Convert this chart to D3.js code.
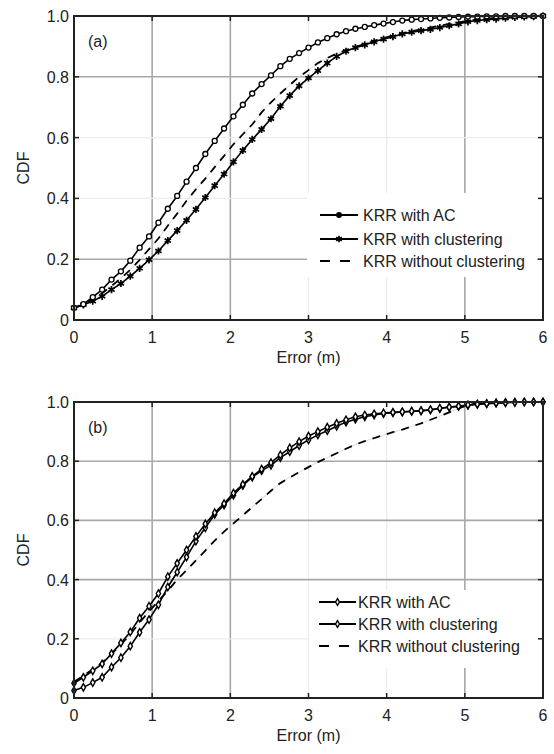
<!DOCTYPE html>
<html>
<head>
<meta charset="utf-8">
<script src="https://cdn.jsdelivr.net/npm/d3@7"></script>
<style>
html,body{margin:0;padding:0;background:#fff;}
svg{display:block;font-family:"Liberation Sans",Arial,sans-serif;}
</style>
</head>
<body>
<svg id="chart" width="554" height="754"></svg>
<script>
// ---------- data ----------
const errorM = [0,0.12,0.24,0.36,0.48,0.6,0.72,0.84,0.96,1.08,1.2,1.32,1.44,1.56,1.68,1.8,1.92,2.04,2.16,2.28,2.4,2.52,2.64,2.76,2.88,3.0,3.12,3.24,3.36,3.48,3.6,3.72,3.84,3.96,4.08,4.2,4.32,4.44,4.56,4.68,4.8,4.92,5.04,5.16,5.28,5.4,5.52,5.64,5.76,5.88,6.0];

const cdfA_AC = [0.040,0.052,0.075,0.100,0.133,0.160,0.195,0.238,0.275,0.320,
  0.366,0.408,0.455,0.500,0.546,0.589,0.630,0.670,0.708,0.745,
  0.776,0.805,0.835,0.859,0.878,0.896,0.913,0.927,0.940,0.950,
  0.958,0.964,0.970,0.975,0.980,0.985,0.988,0.990,0.992,0.994,
  0.995,0.997,0.998,0.998,0.999,0.999,1.000,1.000,1.000,1.000,1.000];
const cdfA_Clust = [0.040,0.050,0.062,0.078,0.100,0.120,0.144,0.170,0.198,0.227,
  0.261,0.294,0.328,0.364,0.403,0.442,0.480,0.520,0.558,0.594,
  0.627,0.662,0.703,0.738,0.770,0.796,0.820,0.845,0.867,0.884,
  0.896,0.905,0.915,0.924,0.932,0.941,0.947,0.952,0.956,0.962,
  0.968,0.974,0.981,0.985,0.988,0.990,0.993,0.995,0.997,0.998,1.000];
const cdfA_NoClust = [0.040,0.050,0.068,0.088,0.112,0.137,0.165,0.198,0.233,0.268,
  0.310,0.350,0.392,0.430,0.465,0.503,0.540,0.578,0.611,0.643,
  0.683,0.716,0.745,0.773,0.800,0.822,0.845,0.862,0.876,0.888,
  0.898,0.908,0.918,0.927,0.935,0.943,0.950,0.956,0.962,0.968,
  0.974,0.979,0.984,0.988,0.991,0.994,0.996,0.998,0.999,1.000,1.000];

const cdfB_AC = [0.050,0.070,0.092,0.115,0.150,0.186,0.223,0.270,0.310,0.353,
  0.410,0.455,0.500,0.546,0.588,0.626,0.657,0.692,0.722,0.749,
  0.773,0.795,0.821,0.845,0.866,0.885,0.900,0.915,0.928,0.940,
  0.950,0.956,0.960,0.963,0.965,0.967,0.969,0.971,0.974,0.979,
  0.983,0.986,0.990,0.993,0.995,0.997,0.998,0.999,1.000,1.000,1.000];
const cdfB_Clust = [0.025,0.036,0.052,0.070,0.104,0.136,0.175,0.222,0.265,0.315,
  0.375,0.425,0.476,0.530,0.575,0.620,0.652,0.685,0.718,0.746,
  0.768,0.786,0.812,0.832,0.853,0.872,0.889,0.903,0.918,0.932,
  0.942,0.950,0.956,0.961,0.964,0.966,0.968,0.970,0.973,0.978,
  0.982,0.985,0.989,0.992,0.994,0.996,0.998,0.999,1.000,1.000,1.000];
const cdfB_NoClust = [0.055,0.075,0.097,0.120,0.148,0.180,0.215,0.255,0.292,0.328,
  0.362,0.400,0.432,0.465,0.498,0.532,0.562,0.590,0.617,0.645,
  0.672,0.700,0.726,0.745,0.763,0.780,0.797,0.812,0.827,0.842,
  0.856,0.868,0.878,0.888,0.898,0.907,0.917,0.928,0.940,0.952,
  0.965,0.978,0.990,0.996,0.998,1.000,1.000,1.000,1.000,1.000,1.000];

const seriesNames = ["KRR with AC","KRR with clustering","KRR without clustering"];
const panelLabels = ["(a)","(b)"];
const xTicks = [0,1,2,3,4,5,6];
const yTicks = [0,0.2,0.4,0.6,0.8,1.0];
const yTickLabels = ["0","0.2","0.4","0.6","0.8","1.0"];
const xAxisTitle = "Error (m)";
const yAxisTitle = "CDF";

// ---------- drawing ----------
const svg = d3.select("#chart");
const FONT = 16;

const panels = [
  {label: panelLabels[0], series:[cdfA_AC, cdfA_Clust, cdfA_NoClust],
   top:16, bottom:320, markers:["circle","asterisk"],
   xGridDark:[1,2,5], yGridDark:[0.2,0.8],
   legend:{x0:307, y0:193, x1:537, y1:277, lineX:320, lineW:38, textX:363, rows:[215,239,261]}},
  {label: panelLabels[1], series:[cdfB_AC, cdfB_Clust, cdfB_NoClust],
   top:402, bottom:698, markers:["diamond","diamond"],
   xGridDark:[1,2,5], yGridDark:[0.4,0.6,0.8],
   legend:{x0:310, y0:590, x1:537, y1:668, lineX:319, lineW:37, textX:358, rows:[602,624,646]}}
];

const left = 74, right = 543;
const x = d3.scaleLinear().domain([0,6]).range([left,right]);

function drawMarker(g, type, cx, cy, small){
  if(type==="circle"){
    g.append("circle").attr("cx",cx).attr("cy",cy).attr("r", small?2.3:2.5)
      .attr("fill", small?"#000":"#fff").attr("stroke","#000").attr("stroke-width",1.3);
  } else if(type==="asterisk"){
    g.append("path").attr("transform",`translate(${cx},${cy})`)
      .attr("d", d3.symbol().type(d3.symbolAsterisk).size(small?30:36)())
      .attr("fill","none").attr("stroke","#000").attr("stroke-width",1.7);
  } else if(type==="diamond"){
    g.append("path").attr("transform",`translate(${cx},${cy})`)
      .attr("d", d3.symbol().type(d3.symbolDiamond).size(small?13:16)())
      .attr("fill","#fff").attr("stroke","#000").attr("stroke-width",1.4);
  }
}

panels.forEach(p => {
  const y = d3.scaleLinear().domain([0,1]).range([p.bottom,p.top]);
  const g = svg.append("g");

  // grid
  xTicks.filter(t => t>0 && t<6).forEach(t => {
    const dark = p.xGridDark.includes(t);
    g.append("line").attr("x1",x(t)).attr("x2",x(t)).attr("y1",p.top).attr("y2",p.bottom)
      .attr("stroke", dark?"#a8a8a8":"#ececec").attr("stroke-width", dark?1.6:1.2);
  });
  yTicks.filter(t => t>0 && t<1).forEach(t => {
    const dark = p.yGridDark.includes(t);
    g.append("line").attr("x1",left).attr("x2",right).attr("y1",y(t)).attr("y2",y(t))
      .attr("stroke", dark?"#a8a8a8":"#ececec").attr("stroke-width", dark?1.6:1.2);
  });

  // legend background (covers grid)
  const L = p.legend;
  g.append("rect").attr("x",L.x0).attr("y",L.y0).attr("width",L.x1-L.x0).attr("height",L.y1-L.y0)
    .attr("fill","#fff");

  const line = d3.line().x((d,i)=>x(errorM[i])).y(d=>y(d));

  // dashed series (without clustering)
  g.append("path").datum(p.series[2]).attr("d",line).attr("fill","none")
    .attr("stroke","#d0d0d0").attr("stroke-width",0.8);
  g.append("path").datum(p.series[2]).attr("d",line).attr("fill","none")
    .attr("stroke","#000").attr("stroke-width",1.8).attr("stroke-dasharray","8,7");

  // solid series with markers
  [1,0].forEach(si => {
    g.append("path").datum(p.series[si]).attr("d",line).attr("fill","none")
      .attr("stroke","#000").attr("stroke-width",1.6);
    const mg = g.append("g");
    p.series[si].forEach((v,i) => drawMarker(mg, p.markers[si], x(errorM[i]), y(v), false));
  });

  // axis frame and ticks
  const ax = g.append("g");
  xTicks.forEach(t => {
    ax.append("line").attr("x1",x(t)).attr("x2",x(t)).attr("y1",p.bottom).attr("y2",p.bottom-5)
      .attr("stroke","#222").attr("stroke-width",1.5);
    ax.append("line").attr("x1",x(t)).attr("x2",x(t)).attr("y1",p.top).attr("y2",p.top+5)
      .attr("stroke","#222").attr("stroke-width",1.5);
    ax.append("text").attr("x",x(t)).attr("y",p.bottom+23).attr("text-anchor","middle")
      .attr("font-size",FONT).attr("fill","#222").text(t);
  });
  yTicks.forEach((t,i) => {
    ax.append("line").attr("x1",left).attr("x2",left+5).attr("y1",y(t)).attr("y2",y(t))
      .attr("stroke","#222").attr("stroke-width",1.5);
    ax.append("line").attr("x1",right).attr("x2",right-5).attr("y1",y(t)).attr("y2",y(t))
      .attr("stroke","#222").attr("stroke-width",1.5);
    ax.append("text").attr("x",left-5).attr("y",y(t)+6).attr("text-anchor","end")
      .attr("font-size",FONT).attr("fill","#222").text(yTickLabels[i]);
  });
  ax.append("rect").attr("x",left).attr("y",p.top).attr("width",right-left).attr("height",p.bottom-p.top)
    .attr("fill","none").attr("stroke","#222").attr("stroke-width",2);

  // titles
  ax.append("text").attr("x",(left+right)/2).attr("y",p.bottom+43).attr("text-anchor","middle")
    .attr("font-size",FONT).attr("fill","#222").text(xAxisTitle);
  const cy = (p.top+p.bottom)/2;
  ax.append("text").attr("transform",`translate(29,${cy}) rotate(-90)`).attr("text-anchor","middle")
    .attr("font-size",FONT).attr("fill","#222").text(yAxisTitle);
  ax.append("text").attr("x",88).attr("y",p.top+31).attr("font-size",FONT).attr("fill","#222").text(p.label);

  // legend entries
  const lg = g.append("g");
  L.rows.forEach((ry,i) => {
    const ln = lg.append("line").attr("x1",L.lineX).attr("x2",L.lineX+L.lineW).attr("y1",ry).attr("y2",ry)
      .attr("stroke","#000").attr("stroke-width",1.8);
    if(i===2) ln.attr("stroke-dasharray","10,10");
    else drawMarker(lg, p.markers[i], L.lineX+L.lineW/2, ry, true);
    lg.append("text").attr("x",L.textX).attr("y",ry+6).attr("font-size",FONT).attr("fill","#222")
      .text(seriesNames[i]);
  });
});
</script>
</body>
</html>
